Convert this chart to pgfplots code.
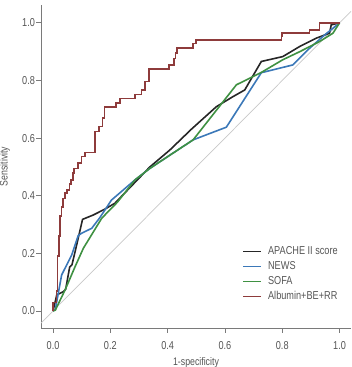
\documentclass[border=0pt]{standalone}
\usepackage{fontspec}
\setmainfont{Liberation Sans}[FakeStretch=0.8]
\usepackage{pgfplots}
\pgfplotsset{compat=1.18}
\definecolor{cblack}{HTML}{262626}
\definecolor{cblue}{HTML}{3B78B8}
\definecolor{cgreen}{HTML}{3F9142}
\definecolor{cred}{HTML}{8E3B3B}
\definecolor{cdiag}{HTML}{C8C8C8}
\definecolor{caxis}{HTML}{7A7A7A}
\definecolor{ctext}{HTML}{555555}
\begin{document}
\begin{tikzpicture}
\begin{axis}[
  scale only axis,
  width=310bp, height=323bp,
  xmin=-0.042, xmax=1.04,
  ymin=-0.059, ymax=1.062,
  axis x line=bottom, axis y line=left,
  axis line style={-, caxis, line width=0.8bp},
  tick align=outside,
  major tick length=4.5bp,
  tick style={caxis, line width=0.8bp},
  xtick={0,0.2,0.4,0.6,0.8,1.0},
  ytick={0,0.2,0.4,0.6,0.8,1.0},
  /pgf/number format/assume math mode=true,
  /pgf/number format/fixed,
  /pgf/number format/fixed zerofill,
  /pgf/number format/precision=1,
  ticklabel style={font=\fontsize{11.5}{13}\selectfont, text=ctext},
  xticklabel style={yshift=-5.5bp},
  yticklabel style={xshift=2bp},
  xlabel={1-specificity},
  ylabel={Sensitivity},
  xlabel style={at={(axis description cs:0.5,0)}, anchor=center, yshift=-35bp, font=\fontsize{11}{12}\selectfont, text=ctext},
  ylabel style={at={(axis description cs:-0.117,0.5)}, anchor=center, font=\fontsize{11}{12}\selectfont, text=ctext},
  legend style={at={(axis description cs:0.64,0.264)}, anchor=north west, draw=none, fill=none,
    font=\fontsize{11.5}{13}\selectfont, row sep=1.4bp},
  legend cell align=left,
  legend image code/.code={\draw[#1, line width=1.5bp] (0bp,0bp) -- (18bp,0bp); \path (22bp,0bp);},
  clip=false,
]
\addplot[cdiag, line width=0.7bp, forget plot] coordinates {(-0.042,-0.042) (1.04,1.04)};

\addplot[color=cblack, line width=1.6bp] coordinates {
(0,0) (0.013,0.056) (0.036,0.067) (0.044,0.075) (0.058,0.152) (0.066,0.16) (0.078,0.21)
(0.103,0.318) (0.14,0.333) (0.18,0.353) (0.216,0.374) (0.27,0.43) (0.338,0.50)
(0.408,0.559) (0.483,0.631) (0.57,0.709) (0.628,0.744) (0.669,0.767) (0.727,0.866)
(0.802,0.883) (0.861,0.918) (0.919,0.947) (0.965,0.964) (0.971,0.993) (1,1)};
\addlegendentry{\textcolor{ctext}{APACHE II score}}

\addplot[color=cblue, line width=1.6bp] coordinates {
(0,0) (0.008,0.005) (0.03,0.125) (0.065,0.194) (0.088,0.262) (0.1,0.27) (0.135,0.287)
(0.162,0.322) (0.204,0.385) (0.286,0.455) (0.338,0.495) (0.489,0.594) (0.605,0.638)
(0.727,0.827) (0.837,0.854) (0.889,0.906) (0.948,0.958) (1,1)};
\addlegendentry{\textcolor{ctext}{NEWS}}

\addplot[color=cgreen, line width=1.6bp] coordinates {
(0,0) (0.008,0.003) (0.042,0.073) (0.077,0.154) (0.106,0.218) (0.17,0.322) (0.225,0.378)
(0.286,0.455) (0.338,0.495) (0.489,0.594) (0.64,0.785) (0.727,0.828) (0.802,0.872)
(0.861,0.9) (0.93,0.935) (0.977,0.964) (1,1)};
\addlegendentry{\textcolor{ctext}{SOFA}}

\addplot[color=cred, line width=1.6bp] coordinates {
(0,0) (0,0.03) (0.012,0.03) (0.012,0.07) (0.016,0.07) (0.016,0.19) (0.02,0.19) (0.02,0.26)
(0.024,0.26) (0.024,0.33) (0.03,0.33) (0.03,0.36) (0.035,0.36) (0.035,0.39) (0.042,0.39)
(0.042,0.41) (0.048,0.41) (0.048,0.42) (0.057,0.42) (0.057,0.44) (0.062,0.44) (0.062,0.455)
(0.069,0.455) (0.069,0.479) (0.073,0.479) (0.073,0.495) (0.088,0.495) (0.088,0.513)
(0.1,0.513) (0.1,0.536) (0.111,0.536) (0.111,0.55) (0.146,0.55) (0.146,0.623) (0.16,0.623)
(0.16,0.64) (0.172,0.64) (0.172,0.669) (0.18,0.669) (0.18,0.709) (0.22,0.709) (0.22,0.722)
(0.233,0.722) (0.233,0.738) (0.286,0.738) (0.286,0.752) (0.309,0.752) (0.309,0.767)
(0.32,0.767) (0.32,0.796) (0.336,0.796) (0.336,0.839) (0.404,0.839) (0.404,0.854)
(0.423,0.854) (0.423,0.877) (0.427,0.877) (0.427,0.895) (0.433,0.895) (0.433,0.913)
(0.489,0.913) (0.489,0.929) (0.5,0.929) (0.5,0.941) (0.797,0.941) (0.797,0.953)
(0.8,0.953) (0.8,0.964) (0.895,0.964) (0.895,0.976) (0.93,0.976) (0.93,1.0) (1,1)};
\addlegendentry{\textcolor{ctext}{Albumin+BE+RR}}
\end{axis}
\pgfresetboundingbox
\path[use as bounding box] ([shift={(-41bp,-39bp)}]current axis.south west) rectangle ([shift={(1bp,5bp)}]current axis.north east);
\end{tikzpicture}
\end{document}
